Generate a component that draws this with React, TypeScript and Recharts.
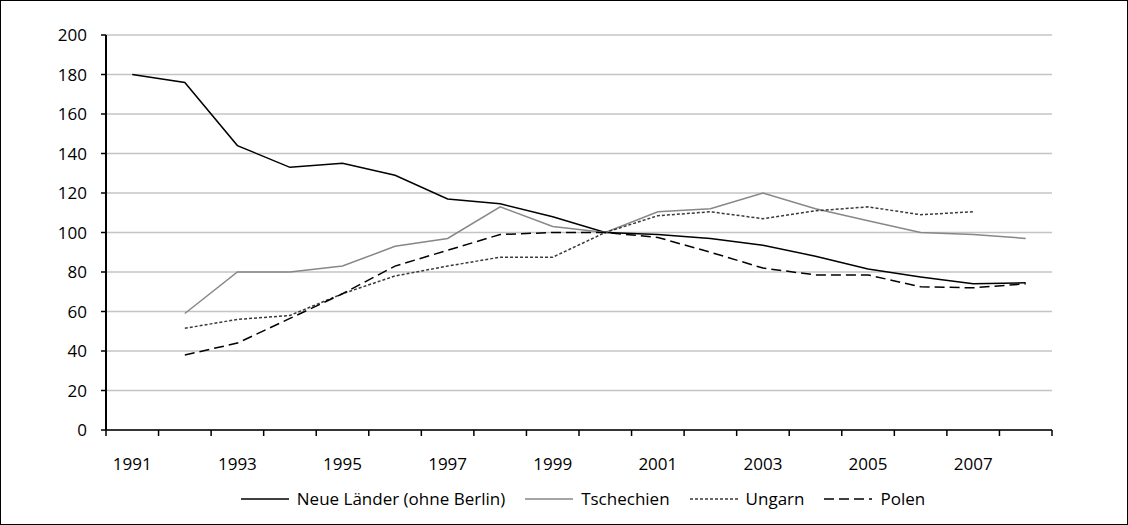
import React from 'react';
import { LineChart, Line, XAxis, YAxis, CartesianGrid, Legend } from 'recharts';

const years = [1991, 1992, 1993, 1994, 1995, 1996, 1997, 1998, 1999, 2000, 2001, 2002, 2003, 2004, 2005, 2006, 2007, 2008];
const neueLaender = [180, 176, 144, 133, 135, 129, 117, 114.5, 108, 100, 99, 97, 93.5, 88, 81.5, 77.5, 74, 74.5];
const tschechien = [null, 59, 80, 80, 83, 93, 97, 113, 103, 100, 110.5, 112, 120, 112, 106, 100, 99, 97];
const ungarn = [null, 51.5, 56, 58, 69, 78, 83, 87.5, 87.5, 100, 108.5, 110.5, 107, 111, 113, 109, 110.5, null];
const polen = [null, 38, 44, 56.5, 69, 83, 91, 99, 100, 100, 97.5, 90, 82, 78.5, 78.5, 72.5, 72, 74];
const yTicks = [0, 20, 40, 60, 80, 100, 120, 140, 160, 180, 200];
const xLabelYears = [1991, 1993, 1995, 1997, 1999, 2001, 2003, 2005, 2007];

const series = [
  { key: 'neue', name: 'Neue Länder (ohne Berlin)', color: '#000000', dash: undefined },
  { key: 'cz', name: 'Tschechien', color: '#878787', dash: undefined },
  { key: 'hu', name: 'Ungarn', color: '#3a3a3a', dash: '3 2' },
  { key: 'pl', name: 'Polen', color: '#000000', dash: '10 5' },
];

const data = years.map((year, i) => ({
  year,
  neue: neueLaender[i],
  cz: tschechien[i],
  hu: ungarn[i],
  pl: polen[i],
}));

// tick marks sit on the year boundaries, labels on every second year
const boundaries = [...years.map((y) => y - 0.5), years[years.length - 1] + 0.5];
const xTicks = [...boundaries, ...xLabelYears].sort((a, b) => a - b);

const FONT = '"Open Sans", "Liberation Sans", sans-serif';

const XTick = (props: any) => {
  const { x, y, payload } = props;
  const v = payload.value;
  if (!Number.isInteger(v)) {
    return <line x1={x} y1={y} x2={x} y2={y + 6} stroke="#000" strokeWidth={1.5} />;
  }
  return (
    <text x={x} y={y + 40} textAnchor="middle" fill="#000" fontSize={17} fontFamily={FONT}>
      {v}
    </text>
  );
};

const LegendContent = () => (
  <div style={{ display: 'flex', justifyContent: 'center', alignItems: 'center', gap: 20, fontFamily: FONT, fontSize: 17, color: '#000' }}>
    {series.map((s) => (
      <div key={s.key} style={{ display: 'flex', alignItems: 'center' }}>
        <svg width={48} height={10} style={{ marginRight: 8 }}>
          <line x1={0} y1={5} x2={48} y2={5} stroke={s.color} strokeWidth={1.5} strokeDasharray={s.dash} />
        </svg>
        <span>{s.name}</span>
      </div>
    ))}
  </div>
);

const App: React.FC = () => {
  return (
    <div
      style={{
        position: 'absolute',
        left: 0,
        top: 0,
        width: 1128,
        height: 525,
        boxSizing: 'border-box',
        border: '1px solid #000',
        background: '#fff',
      }}
    >
      <LineChart width={1126} height={523} data={data} margin={{ top: 34, right: 75, left: 0, bottom: 0 }}>
        <CartesianGrid horizontal vertical={false} stroke="#c4c4c4" strokeWidth={1.5} />
        <XAxis
          dataKey="year"
          type="number"
          domain={[boundaries[0], boundaries[boundaries.length - 1]]}
          ticks={xTicks}
          interval={0}
          tick={<XTick />}
          tickLine={false}
          tickSize={0}
          tickMargin={0}
          height={94}
          axisLine={{ stroke: '#000', strokeWidth: 1.5 }}
        />
        <YAxis
          domain={[0, 200]}
          ticks={yTicks}
          width={105}
          tickSize={5}
          tickMargin={14}
          tickLine={{ stroke: '#000', strokeWidth: 1.5 }}
          axisLine={{ stroke: '#000', strokeWidth: 2 }}
          tick={{ fill: '#000', fontSize: 17, fontFamily: FONT }}
        />
        <Legend
          layout="horizontal"
          verticalAlign="middle"
          align="center"
          content={<LegendContent />}
          wrapperStyle={{ top: 486, left: 38, width: 1088 }}
        />
        {series.map((s) => (
          <Line
            key={s.key}
            dataKey={s.key}
            name={s.name}
            stroke={s.color}
            strokeWidth={1.5}
            strokeDasharray={s.dash}
            dot={false}
            activeDot={false}
            isAnimationActive={false}
          />
        ))}
      </LineChart>
    </div>
  );
};

export default App;
